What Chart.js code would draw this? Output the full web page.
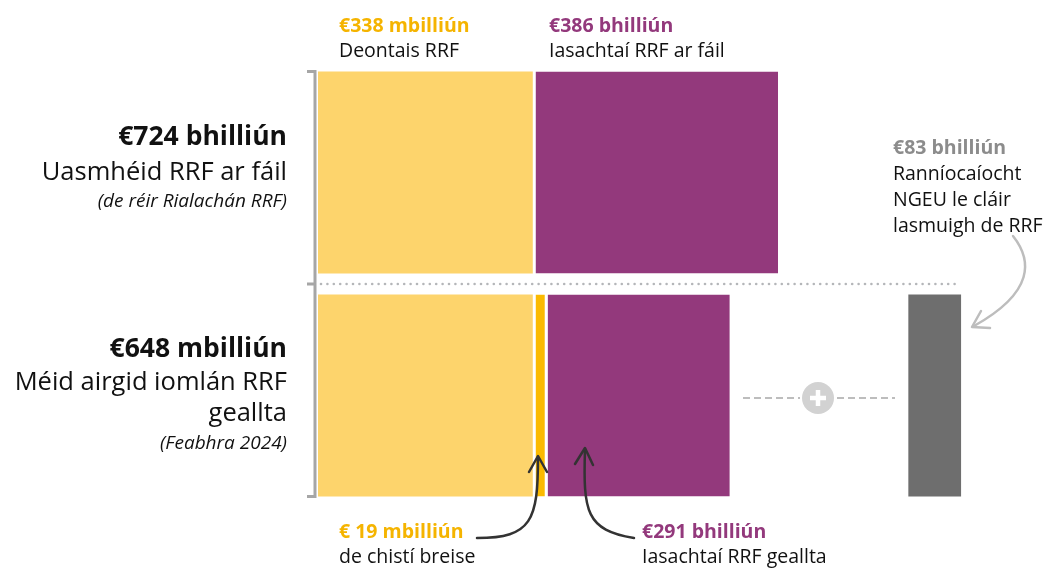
<!DOCTYPE html>
<html>
<head>
<meta charset="utf-8">
<script src="https://cdn.jsdelivr.net/npm/chart.js@4/dist/chart.umd.min.js"></script>
<style>
  html, body { margin: 0; padding: 0; background: #fff; }
  #wrap { width: 1048px; height: 569px; position: relative; }
</style>
</head>
<body>
<div id="wrap"><canvas id="myChart"></canvas></div>
<script>
// rows: available (top) vs committed (bottom), values in € billions
const rows = ["Uasmhéid RRF ar fáil", "Méid airgid iomlán RRF geallta"];
const grants = [338, 338];
const extraFunds = [0, 19];
const loans = [386, 291];
const ngeuOutside = [0, 83];

const YELLOW = "#fdd46c", ORANGE = "#fbba00", PURPLE = "#93397c", GREY = "#6e6e6e";
const FONT = "'Open Sans', sans-serif";
const NGEU_GAP = 281; // empty room between committed RRF and the NGEU bar

// floating segments built from the value arrays so the bars sit side by side
function segments(parts) {
  let starts = rows.map(() => 0);
  return parts.map((vals, p) => vals.map((v, i) => {
    let s = starts[i];
    if (p === parts.length - 1) s += NGEU_GAP;
    starts[i] = s + v;
    return v ? [s, s + v] : null;
  }));
}
let [segGrants, segExtra, segLoans, segNgeu] = segments([grants, extraFunds, loans, ngeuOutside]);

function txt(ctx, s, x, y, weight, size, color, align, style) {
  ctx.font = (style || "normal") + " " + weight + " " + size + "px " + FONT;
  ctx.fillStyle = color;
  ctx.textAlign = align || "left";
  ctx.textBaseline = "alphabetic";
  ctx.fillText(s, x, y);
}

function arrow(ctx, pts, tip, w1, w2, color) {
  ctx.save();
  ctx.strokeStyle = color;
  ctx.lineWidth = 2.5;
  ctx.lineCap = "round";
  ctx.lineJoin = "round";
  ctx.beginPath();
  ctx.moveTo(pts[0], pts[1]);
  ctx.bezierCurveTo(pts[2], pts[3], pts[4], pts[5], pts[6], pts[7]);
  ctx.stroke();
  ctx.beginPath();
  ctx.moveTo(w1[0], w1[1]);
  ctx.lineTo(tip[0], tip[1]);
  ctx.lineTo(w2[0], w2[1]);
  ctx.stroke();
  ctx.restore();
}

const annotations = {
  id: "annotations",
  afterDraw(chart) {
    let ctx = chart.ctx;
    let area = chart.chartArea;
    let y = chart.scales.y;
    let top0 = y.getPixelForValue(0) - 101, bot1 = y.getPixelForValue(1) + 101;
    let mid = (y.getPixelForValue(0) + y.getPixelForValue(1)) / 2;

    // bracket on the left
    ctx.save();
    ctx.strokeStyle = "#a6a6a6";
    ctx.lineWidth = 3;
    ctx.beginPath();
    ctx.moveTo(307, top0);
    ctx.lineTo(area.left - 3, top0);
    ctx.lineTo(area.left - 3, bot1);
    ctx.lineTo(307, bot1);
    ctx.moveTo(307, mid);
    ctx.lineTo(area.left - 3, mid);
    ctx.stroke();

    // dotted separator
    ctx.fillStyle = "#b4b6b9";
    for (let x = area.left + 3; x < 958; x += 6.4) {
      ctx.beginPath();
      ctx.arc(x, mid, 1.3, 0, Math.PI * 2);
      ctx.fill();
    }

    // plus sign with dashes
    ctx.strokeStyle = "#bdbdbd";
    ctx.lineWidth = 2;
    ctx.setLineDash([7, 4]);
    ctx.beginPath();
    ctx.moveTo(743, 398); ctx.lineTo(800, 398);
    ctx.moveTo(837, 398); ctx.lineTo(895, 398);
    ctx.stroke();
    ctx.setLineDash([]);
    ctx.fillStyle = "#d2d2d2";
    ctx.beginPath();
    ctx.arc(818, 398, 16, 0, Math.PI * 2);
    ctx.fill();
    ctx.strokeStyle = "#fff";
    ctx.lineWidth = 4.5;
    ctx.beginPath();
    ctx.moveTo(810, 398); ctx.lineTo(826, 398);
    ctx.moveTo(818, 390); ctx.lineTo(818, 406);
    ctx.stroke();
    ctx.restore();

    // left labels
    txt(ctx, "€724 bhilliún", 287, 145, 700, 26.5, "#111", "right");
    txt(ctx, "Uasmhéid RRF ar fáil", 287, 180, 400, 25.5, "#111", "right");
    txt(ctx, "(de réir Rialachán RRF)", 287, 207, 400, 19, "#111", "right", "italic");
    txt(ctx, "€648 mbilliún", 287, 357, 700, 26.5, "#111", "right");
    txt(ctx, "Méid airgid iomlán RRF", 287, 390, 400, 25.5, "#111", "right");
    txt(ctx, "geallta", 287, 421, 400, 25.5, "#111", "right");
    txt(ctx, "(Feabhra 2024)", 287, 449, 400, 19, "#111", "right", "italic");

    // top labels
    txt(ctx, "€338 mbilliún", 339, 32, 700, 19.5, "#f5b400");
    txt(ctx, "Deontais RRF", 339, 57, 400, 19.5, "#111");
    txt(ctx, "€386 bhilliún", 549, 32, 700, 19.5, PURPLE);
    txt(ctx, "Iasachtaí RRF ar fáil", 549, 57, 400, 19.5, "#111");

    // right labels
    txt(ctx, "€83 bhilliún", 893, 154, 700, 19.5, "#8c8c8c");
    txt(ctx, "Ranníocaíocht", 893, 180, 400, 19.5, "#111");
    txt(ctx, "NGEU le cláir", 893, 206, 400, 19.5, "#111");
    txt(ctx, "lasmuigh de RRF", 893, 232, 400, 19.5, "#111");

    // bottom labels
    txt(ctx, "€ 19 mbilliún", 339, 538, 700, 19.5, "#f5b400");
    txt(ctx, "de chistí breise", 339, 563, 400, 19.5, "#111");
    txt(ctx, "€291 bhilliún", 642, 538, 700, 19.5, PURPLE);
    txt(ctx, "Iasachtaí RRF geallta", 642, 563, 400, 19.5, "#111");

    // arrows
    arrow(ctx, [477, 538, 532, 538, 538, 520, 538, 457], [538, 456], [529, 472], [547, 472], "#333");
    arrow(ctx, [634, 538, 586, 530, 583, 512, 585, 449], [585, 448], [575, 464], [593, 465], "#333");
    arrow(ctx, [1013, 236, 1032, 260, 1035, 292, 974, 326], [972, 327], [981, 311], [990, 328], "#bdbdbd");
  }
};

function ds(label, data, color, gapLeft) {
  return {
    label, data,
    backgroundColor: color,
    borderColor: "#fff",
    borderWidth: { left: gapLeft ? 3 : 0, right: 0, top: 0, bottom: 0 },
    borderSkipped: false
  };
}

new Chart(document.getElementById("myChart"), {
  type: "bar",
  data: {
    labels: rows,
    datasets: [
      ds("Deontais RRF", segGrants, YELLOW, false),
      ds("Cistí breise", segExtra, ORANGE, true),
      ds("Iasachtaí RRF", segLoans, PURPLE, true),
      ds("NGEU lasmuigh de RRF", segNgeu, GREY, false)
    ]
  },
  options: {
    indexAxis: "y",
    responsive: true,
    maintainAspectRatio: false,
    animation: false,
    grouped: false,
    categoryPercentage: 1,
    barPercentage: 0.906,
    layout: { padding: { left: 318, right: 31, top: 61, bottom: 62 } },
    scales: {
      x: { display: false, min: 0, max: 1100 },
      y: { display: false }
    },
    plugins: { legend: { display: false }, tooltip: { enabled: false } }
  },
  plugins: [annotations]
});
</script>
</body>
</html>
